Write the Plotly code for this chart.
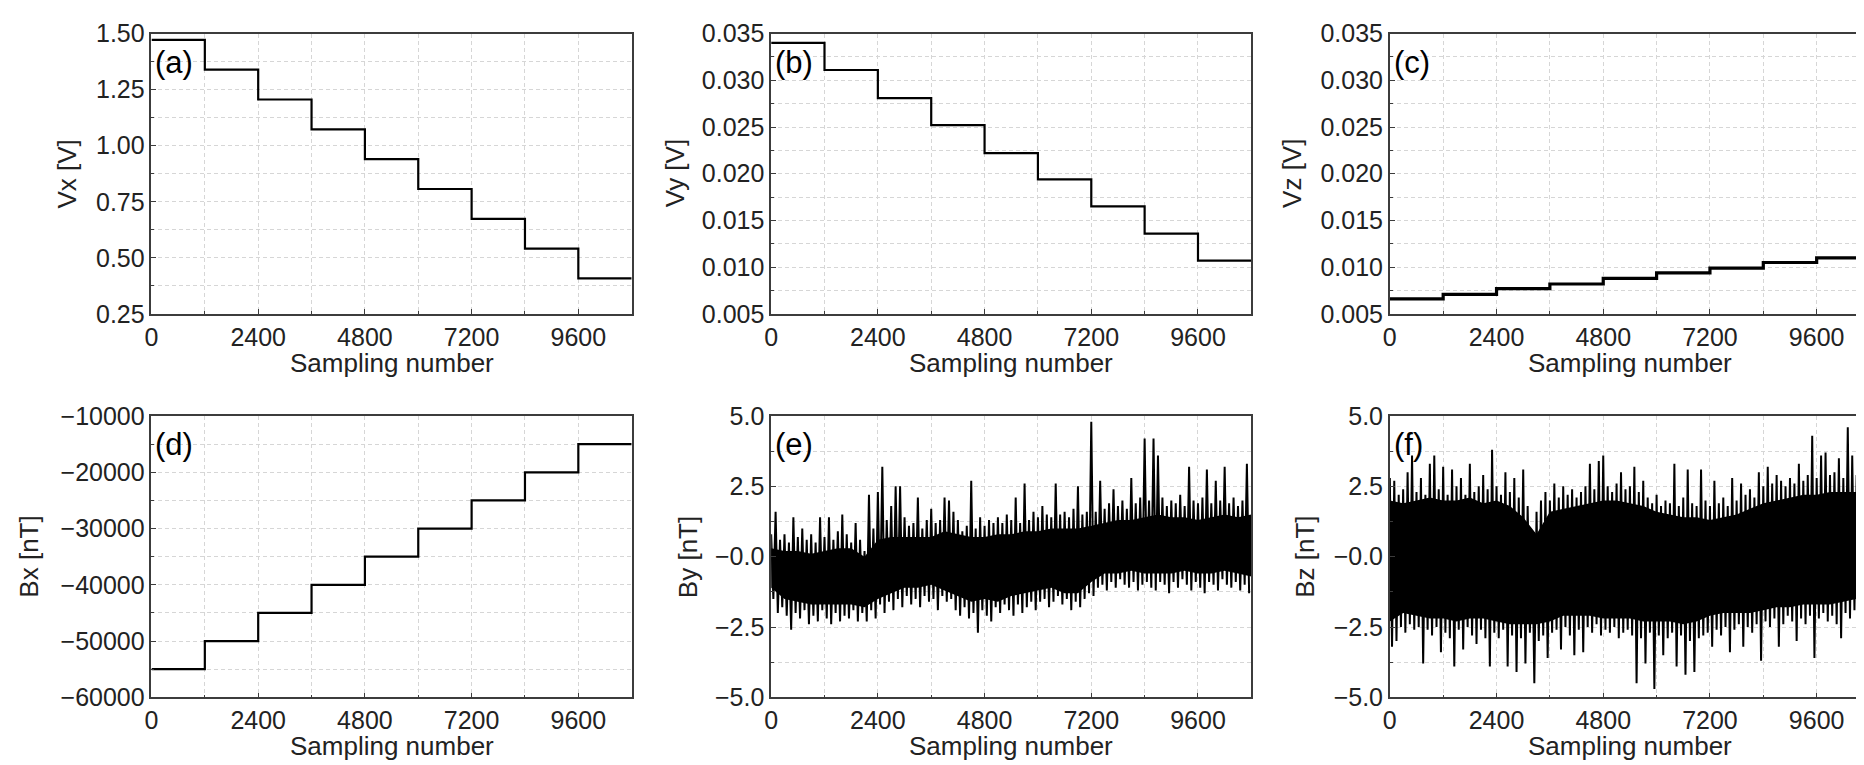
import plotly.graph_objects as go

# step series (a)-(d): one level per 1200-sample block
step_edges = [0, 1200, 2400, 3600, 4800, 6000, 7200, 8400, 9600, 10800]
vx = [1.472, 1.339, 1.206, 1.073, 0.940, 0.807, 0.674, 0.541, 0.408]
vy = [0.0340, 0.0311, 0.0281, 0.0252, 0.0222, 0.0194, 0.0165, 0.0136, 0.0107]
vz = [0.0066, 0.0071, 0.0077, 0.0082, 0.0088, 0.0094, 0.0099, 0.0105, 0.0110]
bx = [-55000, -50000, -45000, -40000, -35000, -30000, -25000, -20000, -15000]

# noisy series (e), (f): peaks read every 100 samples, troughs 50 samples later
noise_x = list(range(0, 10800, 100))
by_hi = [0.8, 1.6, 0.6, 0.8, 0.5, 1.4, 0.7, 1.0, 0.6, 0.8,
         0.5, 1.4, 0.7, 1.4, 0.6, 0.9, 1.5, 0.8, 0.5, 1.2,
         0.6, 0.2, 2.2, 1.0, 2.3, 3.2, 1.3, 1.8, 2.5, 2.5,
         1.4, 1.1, 1.2, 2.1, 1.0, 1.3, 1.7, 1.2, 1.3, 2.1,
         2.0, 1.6, 1.3, 0.9, 1.1, 2.7, 1.0, 1.4, 1.1, 1.3,
         1.2, 1.4, 1.2, 1.5, 1.3, 2.1, 1.2, 2.6, 1.3, 1.6,
         1.4, 1.8, 1.5, 1.4, 2.6, 1.5, 1.6, 1.4, 1.7, 2.5,
         1.5, 1.6, 4.8, 1.6, 2.7, 1.7, 1.9, 2.4, 1.8, 2.0,
         1.7, 2.8, 1.9, 2.1, 4.2, 2.0, 4.2, 3.6, 2.1, 1.8,
         2.0, 1.9, 2.2, 1.8, 3.2, 2.0, 1.9, 2.1, 3.1, 1.9,
         2.7, 2.0, 3.2, 1.9, 2.1, 1.8, 2.0, 3.3]
by_lo = [-1.5, -2.0, -1.8, -2.1, -2.6, -2.0, -2.2, -1.9, -2.4, -2.1,
         -2.3, -1.9, -2.2, -2.4, -2.0, -2.3, -2.1, -2.2, -1.9, -2.3,
         -2.0, -2.3, -1.9, -2.2, -1.7, -2.0, -1.6, -1.9, -1.5, -1.8,
         -1.4, -1.7, -1.5, -1.8, -1.4, -1.6, -1.5, -1.9, -1.4, -1.6,
         -1.5, -1.9, -2.1, -1.8, -2.2, -2.0, -2.7, -1.9, -2.1, -2.3,
         -1.8, -2.0, -1.7, -1.9, -2.1, -1.7, -2.0, -1.8, -1.6, -1.9,
         -1.6, -1.5, -1.8, -1.6, -1.4, -1.7, -1.5, -1.9, -1.6, -1.8,
         -1.5, -1.3, -1.4, -1.1, -1.0, -1.2, -0.9, -1.1, -0.8, -1.0,
         -1.1, -0.9, -1.2, -1.0, -0.9, -1.1, -1.2, -0.9, -1.0, -1.3,
         -0.9, -1.1, -0.8, -1.0, -1.2, -0.9, -1.1, -1.3, -0.9, -1.0,
         -1.2, -0.8, -1.0, -1.1, -0.9, -1.2, -1.0, -1.3]
bz_hi = [2.8, 2.7, 2.2, 2.4, 3.0, 3.6, 2.3, 2.8, 2.2, 3.3,
         3.6, 2.4, 3.2, 2.2, 3.1, 2.5, 2.8, 2.2, 3.3, 2.3,
         2.5, 2.9, 2.4, 3.8, 2.5, 2.2, 3.0, 2.3, 2.8, 2.1,
         3.1, 1.8, 0.9, 1.6, 2.0, 2.3, 2.0, 2.6, 2.1, 2.5,
         2.2, 2.4, 2.1, 2.3, 2.5, 3.3, 2.4, 3.4, 3.6, 2.5,
         2.3, 2.6, 3.0, 2.4, 2.5, 3.2, 2.3, 2.7, 2.1, 1.9,
         2.2, 1.8, 2.0, 1.9, 3.3, 1.8, 2.1, 3.1, 1.9, 1.8,
         3.1, 2.0, 1.8, 2.7, 1.9, 2.1, 1.8, 2.8, 2.0, 2.6,
         2.2, 2.4, 2.1, 3.0, 2.5, 3.2, 2.6, 2.9, 2.7, 2.5,
         2.8, 2.6, 3.3, 2.7, 2.9, 4.3, 2.8, 3.6, 3.7, 2.9,
         3.0, 3.5, 2.8, 4.6, 3.6, 2.9, 3.1, 3.0]
bz_lo = [-3.2, -3.0, -2.5, -2.7, -2.4, -2.6, -2.5, -3.8, -2.6, -2.8,
         -2.5, -3.4, -2.7, -2.9, -3.9, -2.6, -3.3, -2.5, -2.8, -3.1,
         -2.6, -2.9, -3.9, -2.7, -2.9, -2.6, -3.9, -2.8, -4.1, -2.9,
         -3.8, -2.7, -4.5, -3.0, -2.8, -3.6, -2.7, -2.6, -3.3, -2.5,
         -2.8, -3.5, -2.6, -3.4, -2.5, -2.7, -2.4, -2.8, -2.6, -2.7,
         -2.5, -2.9, -2.7, -2.6, -2.8, -4.5, -2.9, -3.8, -2.7, -4.7,
         -2.8, -3.5, -2.9, -2.7, -3.9, -2.8, -4.2, -3.0, -4.1, -2.9,
         -2.8, -2.7, -3.2, -2.6, -2.8, -2.5, -3.4, -2.6, -2.4, -3.2,
         -2.5, -2.7, -2.4, -3.7, -2.3, -2.5, -2.2, -3.2, -2.4, -2.1,
         -2.3, -3.0, -2.2, -2.4, -2.1, -3.6, -2.2, -2.0, -2.3, -2.1,
         -2.4, -2.9, -2.0, -2.2, -1.9, -2.7, -1.8, -1.6]

# edges of the solid dense part of the noise band, read every 300 samples
core_x = list(range(0, 10801, 300))
by_core_hi = [0.3, 0.2, 0.2, 0.1, 0.2, 0.3, 0.3, 0.0, 0.6, 0.7,
              0.7, 0.7, 0.7, 0.9, 0.8, 0.7, 0.7, 0.8, 0.8, 0.9,
              0.9, 1.0, 1.0, 1.0, 1.1, 1.2, 1.3, 1.3, 1.4, 1.5,
              1.4, 1.4, 1.3, 1.4, 1.5, 1.4, 1.5]
by_core_lo = [-1.1, -1.5, -1.6, -1.7, -1.7, -1.7, -1.7, -1.8, -1.5, -1.3,
              -1.1, -1.1, -1.0, -1.2, -1.4, -1.6, -1.5, -1.6, -1.4, -1.3,
              -1.2, -1.1, -1.3, -1.3, -0.9, -0.6, -0.6, -0.5, -0.6, -0.6,
              -0.6, -0.5, -0.6, -0.6, -0.5, -0.6, -0.7]
bz_core_hi = [2.0, 1.9, 2.0, 2.1, 2.0, 2.0, 2.1, 1.9, 2.0, 1.8,
              1.4, 0.8, 1.6, 1.7, 1.8, 1.9, 2.0, 2.0, 1.9, 1.8,
              1.6, 1.5, 1.4, 1.4, 1.3, 1.4, 1.5, 1.7, 1.9, 2.0,
              2.1, 2.2, 2.2, 2.3, 2.3, 2.3, 2.2]
bz_core_lo = [-2.3, -2.0, -2.1, -2.2, -2.2, -2.3, -2.2, -2.2, -2.3, -2.4,
              -2.4, -2.4, -2.3, -2.1, -2.1, -2.1, -2.2, -2.2, -2.2, -2.3,
              -2.3, -2.3, -2.4, -2.3, -2.1, -2.0, -2.0, -2.0, -1.9, -1.8,
              -1.8, -1.7, -1.7, -1.7, -1.6, -1.5, -1.2]

x_ticks = [0, 2400, 4800, 7200, 9600]
b_ticks = [5.0, 2.5, 0.0, -2.5, -5.0]
b_ticktext = ["5.0", "2.5", "\u22120.0", "\u22122.5", "\u22125.0"]
bx_ticks = [-10000, -20000, -30000, -40000, -50000, -60000]
bx_ticktext = ["\u221210000", "\u221220000", "\u221230000", "\u221240000", "\u221250000", "\u221260000"]

W, H = 1864, 765
FONT = "Liberation Sans, Arial, sans-serif"
GRID = "#d6d6d6"
FRAME = "#3c3c3c"
DASH = "4px,3px"

# plot boxes in pixels: (left, right), (top, bottom)
cols = [(137, 619), (759, 1241), (1380, 1862)]
rows = [(12, 303), (409, 701)]


def zigzag(hi, lo):
    xs, ys = [], []
    for i, x in enumerate(noise_x):
        xs += [x, x + 50]
        ys += [hi[i], lo[i]]
    return xs, ys


fig = go.Figure()

step_series = [(vx, 2.2), (vy, 2.2), (vz, 3.2), (bx, 2.2)]
for n, (vals, w) in enumerate(step_series, start=1):
    fig.add_trace(go.Scatter(
        x=step_edges, y=vals + [vals[-1]], mode="lines", line_shape="hv",
        line=dict(color="black", width=w), xaxis=f"x{n}", yaxis=f"y{n}",
        showlegend=False,
    ))

noise = [(5, by_hi, by_lo, by_core_hi, by_core_lo), (6, bz_hi, bz_lo, bz_core_hi, bz_core_lo)]
for n, hi, lo, chi, clo in noise:
    fig.add_trace(go.Scatter(
        x=core_x, y=clo, mode="lines", line=dict(color="black", width=0),
        xaxis=f"x{n}", yaxis=f"y{n}", showlegend=False, hoverinfo="skip",
    ))
    fig.add_trace(go.Scatter(
        x=core_x, y=chi, mode="lines", line=dict(color="black", width=0),
        fill="tonexty", fillcolor="black",
        xaxis=f"x{n}", yaxis=f"y{n}", showlegend=False, hoverinfo="skip",
    ))
    xs, ys = zigzag(hi, lo)
    fig.add_trace(go.Scatter(
        x=xs, y=ys, mode="lines", line=dict(color="black", width=2.0),
        xaxis=f"x{n}", yaxis=f"y{n}", showlegend=False,
    ))

yspecs = [
    dict(range=[0.25, 1.5], tickmode="linear", tick0=0.25, dtick=0.25, tickformat=".2f",
         minor=dict(tickmode="linear", tick0=0.25, dtick=0.125)),
    dict(range=[0.005, 0.035], tickmode="linear", tick0=0.005, dtick=0.005, tickformat=".3f",
         minor=dict(tickmode="linear", tick0=0.005, dtick=0.0025)),
    dict(range=[0.005, 0.035], tickmode="linear", tick0=0.005, dtick=0.005, tickformat=".3f",
         minor=dict(tickmode="linear", tick0=0.005, dtick=0.0025)),
    dict(range=[-60000, -10000], tickmode="array", tickvals=bx_ticks, ticktext=bx_ticktext,
         minor=dict(tickmode="linear", tick0=-60000, dtick=5000)),
    dict(range=[-5, 5], tickmode="array", tickvals=b_ticks, ticktext=b_ticktext,
         minor=dict(tickmode="linear", tick0=-5, dtick=1.25)),
    dict(range=[-5, 5], tickmode="array", tickvals=b_ticks, ticktext=b_ticktext,
         minor=dict(tickmode="linear", tick0=-5, dtick=1.25)),
]
ytitles = ["Vx [V]", "Vy [V]", "Vz [V]", "Bx [nT]", "By [nT]", "Bz [nT]"]
ytitle_x = [52, 662, 1282, 14, 675, 1295]
labels = ["(a)", "(b)", "(c)", "(d)", "(e)", "(f)"]

common = dict(
    showline=True, mirror=True, linecolor=FRAME, linewidth=1.6,
    ticks="inside", ticklen=5, tickcolor=FRAME, tickwidth=1,
    showgrid=True, gridcolor=GRID, griddash=DASH, gridwidth=1,
    zeroline=False, tickfont=dict(family=FONT, size=25, color="#222"),
)

layout = {}
annotations = []
for n in range(1, 7):
    r, c = (n - 1) // 3, (n - 1) % 3
    (x0, x1), (y0, y1) = cols[c], rows[r]
    ymin = yspecs[n - 1].pop("minor")
    ymin.update(ticks="inside", ticklen=3, tickcolor=FRAME, showgrid=True,
                gridcolor=GRID, griddash=DASH)
    layout[f"xaxis{n}"] = dict(
        common, domain=[x0 / W, x1 / W], anchor=f"y{n}", range=[0, 10800],
        tickmode="array", tickvals=x_ticks,
        minor=dict(tickmode="linear", tick0=0, dtick=1200, ticks="inside", ticklen=3,
                   tickcolor=FRAME, showgrid=True, gridcolor=GRID, griddash=DASH),
    )
    layout[f"yaxis{n}"] = dict(
        common, domain=[1 - y1 / H, 1 - y0 / H], anchor=f"x{n}", minor=ymin,
        **yspecs[n - 1],
    )
    annotations.append(dict(
        text=labels[n - 1], xref="paper", yref="paper", x=(x0 + 2) / W, y=1 - (y0 + 30) / H,
        xanchor="left", yanchor="middle", showarrow=False,
        font=dict(family=FONT, size=31, color="black"),
    ))
    annotations.append(dict(
        text="Sampling number", xref="paper", yref="paper", x=(x0 + x1) / 2 / W,
        y=1 - (y1 + 51) / H, xanchor="center", yanchor="middle", showarrow=False,
        font=dict(family=FONT, size=26, color="#222"),
    ))
    annotations.append(dict(
        text=ytitles[n - 1], xref="paper", yref="paper", x=ytitle_x[n - 1] / W,
        y=1 - (y0 + y1) / 2 / H, xanchor="center", yanchor="middle", textangle=-90,
        showarrow=False, font=dict(family=FONT, size=26, color="#222"),
    ))

fig.update_layout(
    **layout,
    annotations=annotations,
    width=W, height=H,
    margin=dict(l=0, r=0, t=0, b=0),
    plot_bgcolor="white", paper_bgcolor="white",
)

fig.write_html("out.html")
